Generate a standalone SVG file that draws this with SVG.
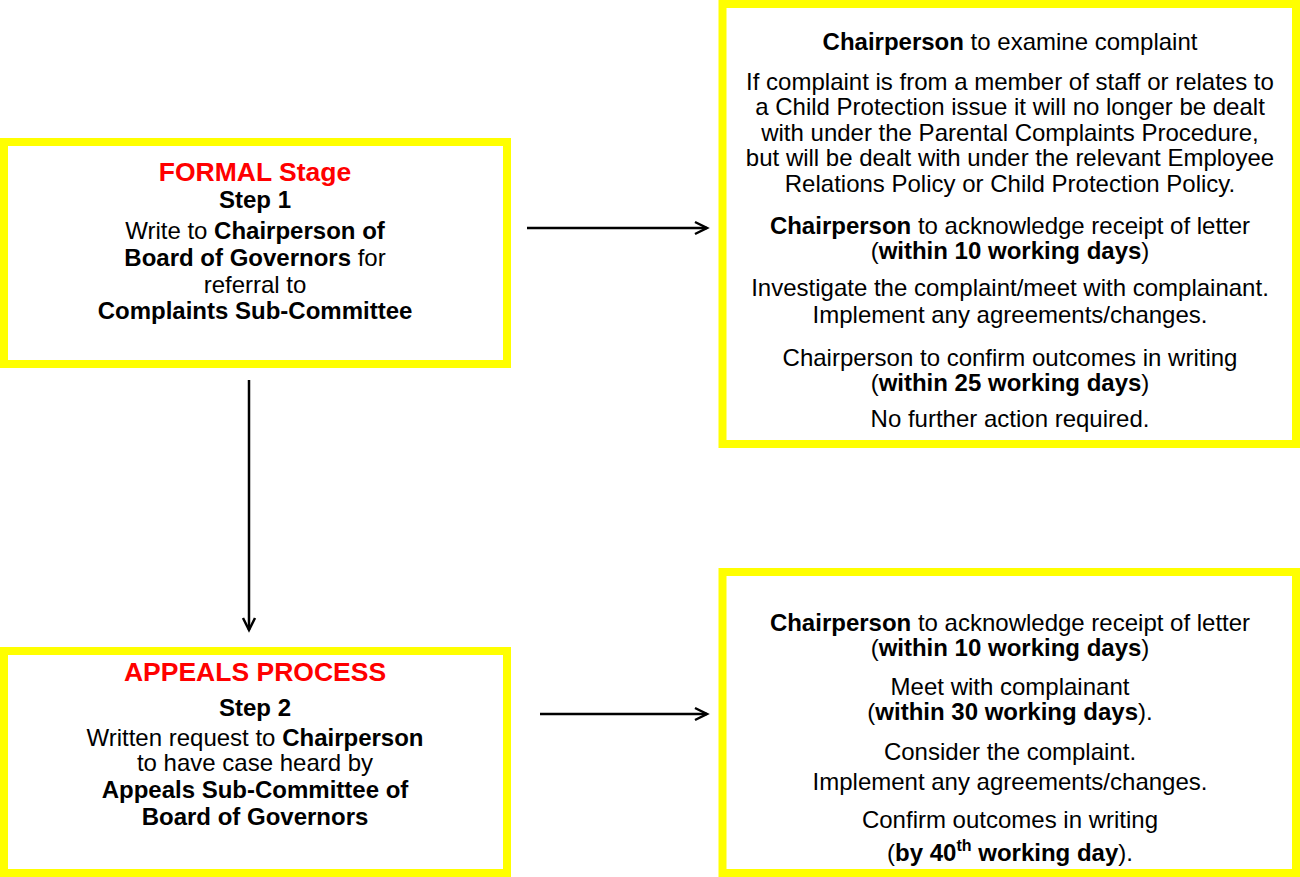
<svg xmlns="http://www.w3.org/2000/svg" width="1300" height="877" viewBox="0 0 1300 877">
<style>
.box{fill:#ffffff;stroke:#ffff00;stroke-width:8}
text{font-family:"Liberation Sans",Arial,sans-serif;font-size:24px;fill:#000;text-anchor:middle}
.title{font-size:26.5px;font-weight:bold;fill:#ff0000}
.b{font-weight:bold}
.conn{stroke:#000;stroke-width:2.5;fill:none}
</style>
<defs>
<marker id="arr" markerWidth="16" markerHeight="16" refX="13" refY="8" orient="auto" markerUnits="userSpaceOnUse">
<path d="M1,2 L13,8 L1,14" fill="none" stroke="#000" stroke-width="2.5"/>
</marker>
</defs>
<rect width="1300" height="877" fill="#ffffff"/>
<g id="connectors">
<line class="conn" x1="527" y1="228" x2="707" y2="228" marker-end="url(#arr)"/>
<line class="conn" x1="540" y1="714" x2="707" y2="714" marker-end="url(#arr)"/>
<line class="conn" x1="249" y1="380" x2="249" y2="630" marker-end="url(#arr)"/>
</g>
<g id="formal-stage">
<rect class="box" x="4" y="142" width="503" height="222"/>
<text class="title" x="255" y="181">FORMAL Stage</text>
<text class="b" x="255" y="208">Step 1</text>
<text x="255" y="239">Write to <tspan class="b">Chairperson of</tspan></text>
<text x="255" y="266"><tspan class="b">Board of Governors</tspan> for</text>
<text x="255" y="293">referral to</text>
<text class="b" x="255" y="319">Complaints Sub-Committee</text>
</g>
<g id="formal-outcome">
<rect class="box" x="722.5" y="4" width="573.5" height="440"/>
<text x="1010" y="50"><tspan class="b">Chairperson</tspan> to examine complaint</text>
<text x="1010" y="90">If complaint is from a member of staff or relates to</text>
<text x="1010" y="115">a Child Protection issue it will no longer be dealt</text>
<text x="1010" y="141">with under the Parental Complaints Procedure,</text>
<text x="1010" y="166">but will be dealt with under the relevant Employee</text>
<text x="1010" y="192">Relations Policy or Child Protection Policy.</text>
<text x="1010" y="234"><tspan class="b">Chairperson</tspan> to acknowledge receipt of letter</text>
<text x="1010" y="259">(<tspan class="b">within 10 working days</tspan>)</text>
<text x="1010" y="296">Investigate the complaint/meet with complainant.</text>
<text x="1010" y="323">Implement any agreements/changes.</text>
<text x="1010" y="366">Chairperson to confirm outcomes in writing</text>
<text x="1010" y="391">(<tspan class="b">within 25 working days</tspan>)</text>
<text x="1010" y="427">No further action required.</text>
</g>
<g id="appeals-process">
<rect class="box" x="4" y="651" width="503" height="222"/>
<text class="title" x="255" y="681">APPEALS PROCESS</text>
<text class="b" x="255" y="716">Step 2</text>
<text x="255" y="746">Written request to <tspan class="b">Chairperson</tspan></text>
<text x="255" y="771">to have case heard by</text>
<text class="b" x="255" y="798">Appeals Sub-Committee of</text>
<text class="b" x="255" y="825">Board of Governors</text>
</g>
<g id="appeals-outcome">
<rect class="box" x="722.5" y="572" width="573.5" height="301"/>
<text x="1010" y="631"><tspan class="b">Chairperson</tspan> to acknowledge receipt of letter</text>
<text x="1010" y="656">(<tspan class="b">within 10 working days</tspan>)</text>
<text x="1010" y="695">Meet with complainant</text>
<text x="1010" y="720">(<tspan class="b">within 30 working days</tspan>).</text>
<text x="1010" y="760">Consider the complaint.</text>
<text x="1010" y="790">Implement any agreements/changes.</text>
<text x="1010" y="828">Confirm outcomes in writing</text>
<text x="1010" y="861">(<tspan class="b">by 40</tspan><tspan class="b" font-size="16" dy="-10">th</tspan><tspan class="b" dy="10"> working day</tspan>).</text>
</g>
</svg>
